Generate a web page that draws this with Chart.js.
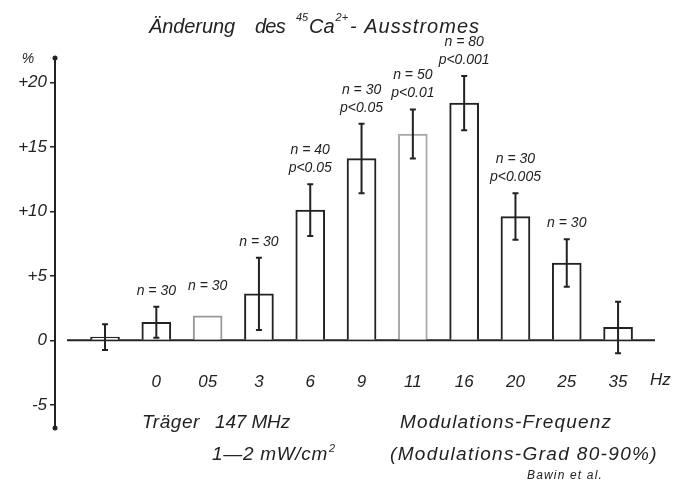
<!DOCTYPE html>
<html>
<head>
<meta charset="utf-8">
<script src="https://cdn.jsdelivr.net/npm/chart.js@4.4.0/dist/chart.umd.min.js"></script>
<style>
body { margin: 0; background: #fff; }
#wrap { width: 674px; height: 488px; position: relative; }
</style>
</head>
<body>
<div id="wrap"><canvas id="myChart"></canvas></div>
<script>
// first bar is the control (no modulation), then the modulation frequencies in Hz
const freqLabels = ['', '0', '05', '3', '6', '9', '11', '16', '20', '25', '35'];
const changeValues = [0.25, 1.4, 1.9, 3.6, 10.1, 14.1, 16.0, 18.4, 9.6, 6.0, 1.0];
const errorValues = [1.0, 1.2, 0, 2.8, 2.0, 2.7, 1.9, 2.1, 1.8, 1.85, 2.0];
const sampleNotes = [
    [], ['n = 30'], ['n = 30'], ['n = 30'],
    ['n = 40', 'p<0.05'], ['n = 30', 'p<0.05'], ['n = 50', 'p<0.01'],
    ['n = 80', 'p<0.001'], ['n = 30', 'p<0.005'], ['n = 30'], []
];
const yTicks = [-5, 0, 5, 10, 15, 20];
const barBorders = ['#222', '#222', '#999', '#222', '#222', '#222', '#aaa', '#222', '#222', '#222', '#222'];

const ink = '#222';
const fam = "'Liberation Sans', 'DejaVu Sans', sans-serif";
const ctx = document.getElementById('myChart');

var barData = changeValues.map((v, i) => ({ x: i, y: v }));

// draws italic text, optionally stretched with letter spacing to a given width
function drawText(c, txt, x, y, size, align, width) {
    c.font = 'italic ' + size + 'px ' + fam;
    c.textAlign = align || 'left';
    c.textBaseline = 'middle';
    c.letterSpacing = '0px';
    var w = c.measureText(txt).width;
    if (width) {
        c.letterSpacing = ((width - w) / txt.length).toFixed(2) + 'px';
        w = width;
    }
    c.fillText(txt, x, y);
    c.letterSpacing = '0px';
    return w;
}

const extras = {
    id: 'extras',
    beforeDatasetsDraw(chart) {
        var c = chart.ctx, area = chart.chartArea;
        var y0 = chart.scales.y.getPixelForValue(0);
        c.save();
        c.strokeStyle = ink;
        c.lineWidth = 2;
        c.beginPath();
        c.moveTo(area.left + 12, y0);
        c.lineTo(area.right, y0);
        c.stroke();
        c.restore();
    },
    afterDatasetsDraw(chart) {
        var c = chart.ctx;
        var yScale = chart.scales.y;
        var meta = chart.getDatasetMeta(0);
        c.save();
        c.strokeStyle = ink;
        c.fillStyle = ink;
        c.lineWidth = 2;
        meta.data.forEach((bar, i) => {
            var err = errorValues[i];
            var top = yScale.getPixelForValue(changeValues[i] + err);
            if (err > 0) {
                var bot = yScale.getPixelForValue(changeValues[i] - err);
                c.beginPath();
                c.moveTo(bar.x, top); c.lineTo(bar.x, bot);
                c.moveTo(bar.x - 3, top); c.lineTo(bar.x + 3, top);
                c.moveTo(bar.x - 3, bot); c.lineTo(bar.x + 3, bot);
                c.stroke();
            } else {
                top -= 14;
            }
            var notes = sampleNotes[i];
            notes.forEach((t, k) => {
                drawText(c, t, bar.x, top - 16 - (notes.length - 1 - k) * 18, 14, 'center');
            });
        });
        c.restore();
    },
    afterDraw(chart) {
        var c = chart.ctx, area = chart.chartArea;
        c.save();
        c.fillStyle = ink;
        // arrow dots at the ends of the y axis
        c.beginPath(); c.arc(area.left, area.top, 2.5, 0, Math.PI * 2); c.fill();
        c.beginPath(); c.arc(area.left, area.bottom, 2.5, 0, Math.PI * 2); c.fill();

        // title with superscripts
        var y = 27;
        drawText(c, 'Änderung', 149, y, 20, 'left', 86);
        drawText(c, 'des', 255, y, 20, 'left', 30);
        drawText(c, '45', 296, y - 9, 11);
        var x = 309;
        x += drawText(c, 'Ca', x, y, 20);
        drawText(c, '2+', x + 1, y - 9, 11);
        drawText(c, '- Ausstromes', 350, y, 20, 'left', 130);

        drawText(c, '%', 28, 59, 14, 'center');
        drawText(c, 'Hz', 650, 380, 17);
        drawText(c, 'Träger', 142, 423, 19, 'left', 58);
        drawText(c, '147 MHz', 215, 423, 19, 'left', 75);
        x = 212;
        x += drawText(c, '1—2 mW/cm', x, 455, 19, 'left', 116);
        drawText(c, '2', x + 1, 449, 11);
        drawText(c, 'Modulations-Frequenz', 400, 423, 19, 'left', 212);
        drawText(c, '(Modulations-Grad 80-90%)', 390, 455, 19, 'left', 268);
        drawText(c, 'Bawin et al.', 527, 476, 12, 'left', 76);
        c.restore();
    }
};

new Chart(ctx, {
    type: 'bar',
    data: {
        datasets: [{
            label: 'Änderung',
            data: barData,
            backgroundColor: '#fff',
            borderColor: barBorders,
            borderWidth: 2,
            barThickness: 29
        }]
    },
    options: {
        responsive: true,
        maintainAspectRatio: false,
        animation: false,
        layout: { padding: { top: 58, bottom: 60, left: 0, right: 19 } },
        plugins: {
            legend: { display: false },
            tooltip: { enabled: false }
        },
        scales: {
            x: {
                type: 'linear',
                axis: 'x',
                position: { y: 0 },
                offset: false,
                min: -0.975,
                max: 10.72,
                grid: { display: false, offset: false },
                border: { display: false },
                afterBuildTicks: function(scale) {
                    scale.ticks = freqLabels.map((l, i) => ({ value: i }));
                },
                ticks: {
                    autoSkip: false,
                    maxRotation: 0,
                    padding: 24,
                    color: ink,
                    font: { family: fam, size: 17, style: 'italic' },
                    callback: function(value, index) { return freqLabels[index]; }
                }
            },
            y: {
                min: -6.8,
                max: 21.9,
                afterFit: function(scale) { scale.width = 55; },
                afterBuildTicks: function(scale) {
                    scale.ticks = yTicks.map(v => ({ value: v }));
                },
                grid: { drawOnChartArea: false, drawTicks: true, tickLength: 5, color: ink, lineWidth: 1.5 },
                border: { display: true, color: ink, width: 2 },
                ticks: {
                    padding: 3,
                    color: ink,
                    font: { family: fam, size: 17, style: 'italic' },
                    callback: function(value) { return value > 0 ? '+' + value : String(value); }
                }
            }
        }
    },
    plugins: [extras]
});
</script>
</body>
</html>
